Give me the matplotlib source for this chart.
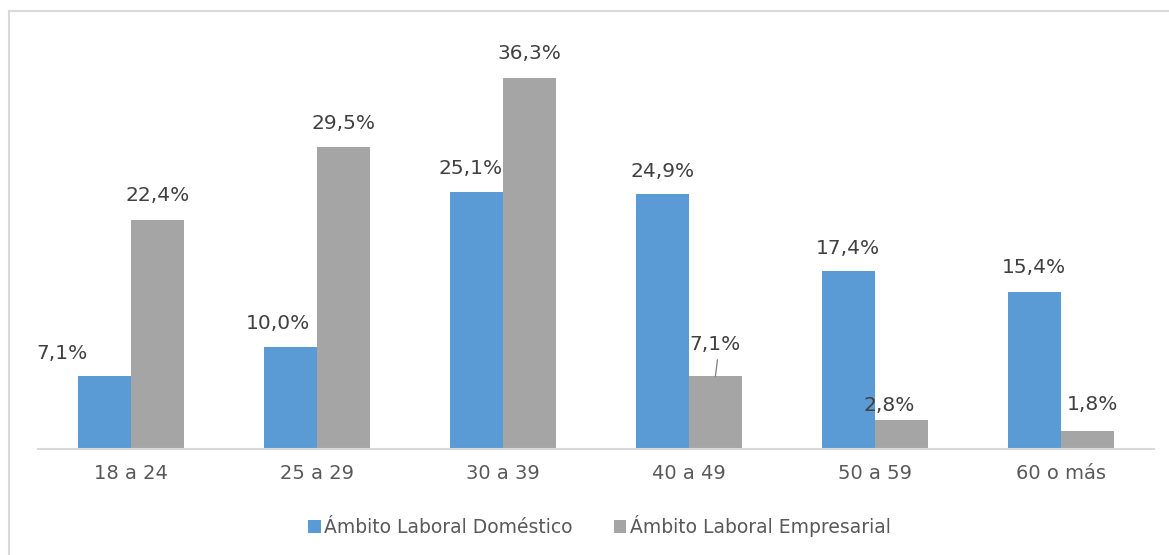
import numpy as np
import matplotlib.pyplot as plt
from matplotlib.lines import Line2D

categories = ["18 a 24", "25 a 29", "30 a 39", "40 a 49", "50 a 59", "60 o más"]
domestico = [7.1, 10.0, 25.1, 24.9, 17.4, 15.4]
empresarial = [22.4, 29.5, 36.3, 7.1, 2.8, 1.8]
series_names = ["Ámbito Laboral Doméstico", "Ámbito Laboral Empresarial"]

blue = "#5B9BD5"
gray = "#A5A5A5"
txt = "#404040"

plt.rcParams['font.family'] = ['DejaVu Sans']

fig = plt.figure(figsize=(11.69, 5.55), dpi=100)
ax = fig.add_axes([0.0325, 0.191, 0.9545, 0.737])

x = np.arange(len(categories))
w = 0.285
b1 = ax.bar(x - w / 2, domestico, w, color=blue, label=series_names[0])
b2 = ax.bar(x + w / 2, empresarial, w, color=gray, label=series_names[1])

ax.set_xlim(-0.5, len(categories) - 0.5)
ax.set_ylim(0, 40)

# label offsets in pixels (dx, dy) from bar top centre
off1 = [(-42, 23), (-13, 23), (-6, 24), (0, 23), (0, 23), (0, 24)]
off2 = [(0, 24), (0, 24), (0, 24), (0, 32), (-12, 15), (5, 26)]


def labels(bars, vals, offs):
    for b, v, (dx, dy) in zip(bars, vals, offs):
        s = f"{v:.1f}%".replace(".", ",")
        ax.annotate(s, (b.get_x() + b.get_width() / 2, v),
                    xytext=(dx * 0.72, dy * 0.72), textcoords="offset points",
                    ha="center", va="center", fontsize=14.5, color=txt)


labels(b1, domestico, off1)
labels(b2, empresarial, off2)

# leader line for the 40 a 49 empresarial label
ax.annotate("", (x[3] + w / 2, empresarial[3]), xytext=(1.5, 12),
            textcoords="offset points",
            arrowprops=dict(arrowstyle="-", color="#7F7F7F", lw=0.9,
                            shrinkA=0, shrinkB=0))

for s in ["top", "right", "left"]:
    ax.spines[s].set_visible(False)
ax.spines["bottom"].set_color("#D9D9D9")
ax.spines["bottom"].set_linewidth(1.5)
ax.set_yticks([])
ax.set_xticks(x)
ax.set_xticklabels(categories, fontsize=14, color="#595959")
ax.tick_params(axis="x", length=0, pad=11)

leg = fig.legend(handles=[b1, b2], loc="center", bbox_to_anchor=(0.513, 0.052),
                 ncol=2, frameon=False, fontsize=13.5, handlelength=0.65,
                 handleheight=0.65, handletextpad=0.2, columnspacing=2.2)
for t in leg.get_texts():
    t.set_color("#595959")

# outer chart frame (right and bottom edges fall outside the image)
fig.add_artist(Line2D([9 / 1169, 9 / 1169], [0, 1 - 11 / 555],
                      transform=fig.transFigure, color="#D9D9D9", lw=1.5))
fig.add_artist(Line2D([9 / 1169, 1], [1 - 11 / 555, 1 - 11 / 555],
                      transform=fig.transFigure, color="#D9D9D9", lw=1.5))

fig.savefig("out.png", dpi=100)
